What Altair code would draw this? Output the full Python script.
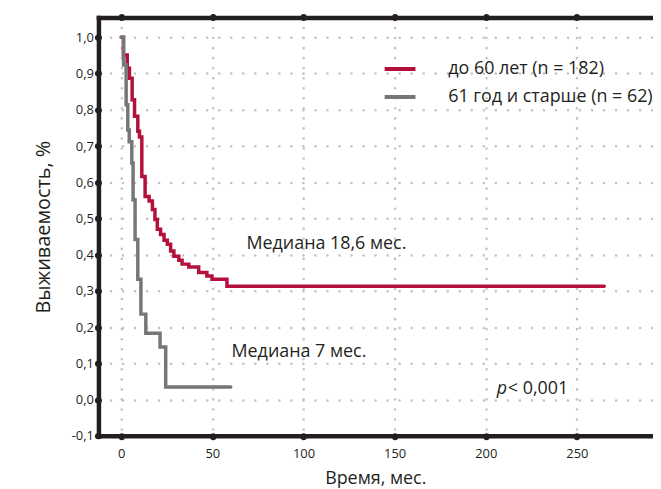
import altair as alt
import pandas as pd

# Kaplan-Meier step data (time in months, survival fraction)
red_t = [0, 1.2, 3.3, 4.5, 6, 7.3, 9.1, 10, 11.3, 13.1, 15.3, 17.1, 18.5, 19.8, 21.6,
         23.5, 25.3, 27.1, 28.9, 31.6, 33.4, 37.1, 42.5, 47, 49.8, 58, 265]
red_s = [1.0, 0.951, 0.915, 0.887, 0.828, 0.782, 0.741, 0.725, 0.616, 0.561, 0.548, 0.525,
         0.497, 0.47, 0.456, 0.44, 0.429, 0.41, 0.396, 0.385, 0.374, 0.366, 0.351, 0.341,
         0.332, 0.313, 0.313]
gray_t = [0, 1.3, 2.7, 3.6, 4.4, 5.8, 6.5, 7.6, 9.1, 10.8, 13.5, 21.3, 24.4, 60.1]
gray_s = [1.0, 0.924, 0.814, 0.744, 0.712, 0.653, 0.552, 0.442, 0.332, 0.236, 0.183,
          0.145, 0.035, 0.035]

groups = ["до 60 лет (n = 182)", "61 год и старше (n = 62)"]
colors = ["#b3103c", "#767676"]

x_ticks = [0, 50, 100, 150, 200, 250, 300]
y_ticks = [-0.1, 0.0, 0.1, 0.2, 0.3, 0.4, 0.5, 0.6, 0.7, 0.8, 0.9, 1.0]

notes_text = ["Медиана 18,6 мес.", "Медиана 7 мес.", "< 0,001"]
notes_x = [68.7, 60.5, 212.1]
notes_y = [0.43, 0.13, 0.03]
p_text = ["p"]
p_x = [206.0]
p_y = [0.03]

FONT = "Open Sans"
INK = "#231f20"

df = pd.concat([
    pd.DataFrame({"x": red_t, "y": red_s, "g": groups[0]}),
    pd.DataFrame({"x": gray_t, "y": gray_s, "g": groups[1]}),
])
notes = pd.DataFrame({"x": notes_x, "y": notes_y, "t": notes_text})
pdf = pd.DataFrame({"x": p_x, "y": p_y, "t": p_text})

xs = alt.Scale(domain=[-12.5, 291.2], nice=False, zero=False)
ys = alt.Scale(domain=[-0.1, 1.055], nice=False, zero=False)

y_enc = alt.Y("y:Q", scale=ys, title="Выживаемость, %",
              axis=alt.Axis(values=y_ticks, grid=True, gridDash=[0.1, 12],
                            labelExpr="replace(replace(format(datum.value, '.1f'), '.', ','), '\u2212', '-')",
                            labelPadding=4, titlePadding=18, titleFontSize=20))

lines = alt.Chart(df).mark_line(interpolate="step-after", strokeWidth=3.5, strokeCap="round").encode(
    x=alt.X("x:Q", scale=xs, title="Время, мес.",
            axis=alt.Axis(orient="bottom", values=x_ticks, grid=True, gridDash=[0.1, 10],
                          labelPadding=11, titlePadding=9, titleFontSize=18)),
    y=y_enc,
    color=alt.Color("g:N", sort=groups, scale=alt.Scale(domain=groups, range=colors),
                    legend=alt.Legend(orient="none", legendX=286, legendY=38, title=None,
                                      symbolType="stroke", symbolStrokeWidth=4, symbolSize=961,
                                      labelFontSize=18, labelOffset=31, padding=0, rowPadding=0,
                                      clipHeight=28, labelLimit=400, labelFont=FONT, labelColor=INK)),
)

texts = alt.Chart(notes).mark_text(align="left", baseline="middle", fontSize=18, font=FONT, color=INK).encode(
    x=alt.X("x:Q", scale=xs, title=None,
            axis=alt.Axis(orient="top", values=x_ticks, labels=False, grid=False, title=None)),
    y=y_enc,
    text="t:N",
)

ptext = alt.Chart(pdf).mark_text(align="left", baseline="middle", fontSize=18, font=FONT,
                                 fontStyle="italic", color=INK).encode(
    x=alt.X("x:Q", scale=xs, axis=None),
    y=y_enc,
    text="t:N",
)

chart = alt.layer(lines, texts, ptext).resolve_axis(x="independent").properties(
    width=557, height=421,
    padding={"left": 25, "top": 4, "right": 0, "bottom": 0},
).configure_view(stroke=None).configure_axis(
    domainColor=INK, domainWidth=4.5, domainCap="square",
    tickColor=INK, tickWidth=6, tickSize=1, tickCap="round",
    gridColor="#c2c2c2", gridWidth=2.5, gridCap="round",
    labelFont=FONT, labelFontSize=13, labelColor=INK,
    titleFont=FONT, titleFontSize=17, titleFontWeight="normal", titleColor=INK,
)

chart.save("out.html", embed_options={"renderer": "svg", "actions": False})
